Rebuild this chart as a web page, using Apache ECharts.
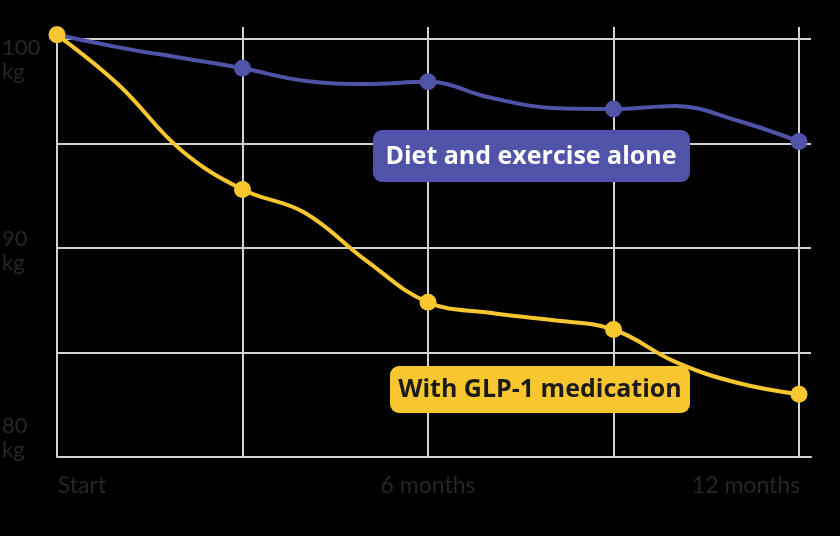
<!DOCTYPE html>
<html>
<head>
<meta charset="utf-8">
<script src="https://cdn.jsdelivr.net/npm/echarts@6/dist/echarts.min.js"></script>
<style>
html,body{margin:0;padding:0;background:#000;}
#chart{width:840px;height:536px;}
</style>
</head>
<body>
<div id="chart"></div>
<script>
// Data (months since start; markers shown every 3 months)
var months = [0, 1, 2, 3, 4, 5, 6, 7, 8, 9, 10, 11, 12];
var dietExercise = [100.2, 99.6, 99.1, 98.6, 98.0, 97.85, 97.95, 97.2, 96.7, 96.65, 96.8, 96.1, 95.1];
var glp1 = [100.2, 97.8, 94.7, 92.8, 91.7, 89.4, 87.4, 86.9, 86.55, 86.1, 84.55, 83.55, 83.0];
var markerMonths = [0, 3, 6, 9, 12];
var xTickLabels = { 0: 'Start', 6: '6 months', 12: '12 months' };
var yTickLabels = { 80: '80', 90: '90', 100: '100' };
var seriesNames = ['Diet and exercise alone', 'With GLP-1 medication'];

var BLUE = '#5053a8';
var YELLOW = '#f8c62e';
var GRID = '#d2d2d2';
var LABEL = '#262626';
var FONT = 'Lato, "Open Sans", sans-serif';
var BOXFONT = '"Open Sans", Lato, sans-serif';

function pairs(vals) { return months.map(function (m, i) { return [m, vals[i]]; }); }
function markerSize(v) { return markerMonths.indexOf(v[0]) >= 0 ? 17 : 0; }

var chart = echarts.init(document.getElementById('chart'));
chart.setOption({
  backgroundColor: '#000',
  animation: false,
  grid: { left: 57, right: 29, top: 27, bottom: 79, containLabel: false, outerBoundsMode: 'none' },
  xAxis: {
    type: 'value', min: 0, max: 12.194, interval: 3,
    axisLine: { show: true, onZero: false, lineStyle: { color: GRID, width: 2 } },
    axisTick: { show: false },
    splitLine: { show: true, showMaxLine: false, lineStyle: { color: GRID, width: 2 } },
    axisLabel: {
      margin: 17, color: LABEL, fontFamily: FONT, fontSize: 23,
      showMaxLabel: false, hideOverlap: false,
      formatter: function (v) {
        if (v === 0) return '{e| }{l|' + xTickLabels[0] + '}';
        if (v === 12) return '{r|' + xTickLabels[12] + '}{e2| }';
        return xTickLabels[v] || '';
      },
      rich: {
        e: { width: 50 }, l: { width: 50, align: 'left', color: LABEL, fontFamily: FONT, fontSize: 23 },
        r: { width: 120, align: 'right', color: LABEL, fontFamily: FONT, fontSize: 23 }, e2: { width: 106 }
      }
    }
  },
  yAxis: {
    type: 'value', min: 80, max: 100.574, interval: 5,
    axisLine: { show: false }, axisTick: { show: false },
    splitLine: { show: true, showMaxLine: false, lineStyle: { color: GRID, width: 2 } },
    axisLabel: {
      align: 'left', margin: 55, color: LABEL, fontFamily: FONT, fontSize: 22,
      showMaxLabel: false,
      formatter: function (v) {
        var t = yTickLabels[v];
        if (!t) return '';
        if (v === 100) return '{s1| }\n{a|' + t + '}\n{a|kg}';
        if (v === 80) return '{a|' + t + '}\n{a|kg}\n{s2| }';
        return '{s3| }\n{a|' + t + '}\n{a|kg}';
      },
      rich: {
        a: { lineHeight: 24, fontSize: 22, fontFamily: FONT, color: LABEL, align: 'left' },
        s1: { lineHeight: 42, fontSize: 10 },
        s2: { lineHeight: 38, fontSize: 10 },
        s3: { lineHeight: 6, fontSize: 6 }
      }
    }
  },
  series: [
    {
      name: seriesNames[0], type: 'line', data: pairs(dietExercise), smooth: 0.4,
      symbol: 'circle', symbolSize: markerSize, showSymbol: true, showAllSymbol: true,
      lineStyle: { color: BLUE, width: 4 }, itemStyle: { color: BLUE }, z: 3
    },
    {
      name: seriesNames[1], type: 'line', data: pairs(glp1), smooth: 0.4,
      symbol: 'circle', symbolSize: markerSize, showSymbol: true, showAllSymbol: true,
      lineStyle: { color: YELLOW, width: 4 }, itemStyle: { color: YELLOW }, z: 4
    }
  ],
  graphic: [
    { type: 'rect', z: 10, shape: { x: 373, y: 130, width: 317, height: 52, r: 9 }, style: { fill: BLUE } },
    { type: 'text', z: 11, x: 531, y: 157,
      style: { text: seriesNames[0], fill: '#fff', font: 'bold 25px ' + BOXFONT, align: 'center', verticalAlign: 'middle' } },
    { type: 'rect', z: 10, shape: { x: 390, y: 366, width: 300, height: 47, r: 9 }, style: { fill: YELLOW } },
    { type: 'text', z: 11, x: 540, y: 390,
      style: { text: seriesNames[1], fill: '#1a1a1a', font: 'bold 25px ' + BOXFONT, align: 'center', verticalAlign: 'middle' } }
  ]
});
</script>
</body>
</html>
